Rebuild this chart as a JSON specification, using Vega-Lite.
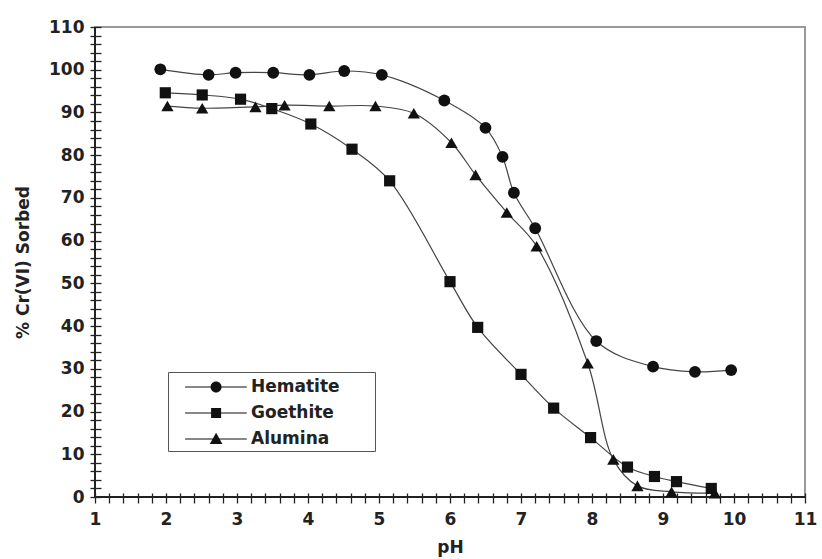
{
  "$schema": "https://vega.github.io/schema/vega-lite/v6.json",
  "width": 710,
  "height": 470,
  "autosize": {"type": "none"},
  "padding": {"left": 95, "top": 27, "right": 17, "bottom": 62},
  "background": "white",
  "config": {
    "view": {"stroke": "#999", "strokeWidth": 2},
    "font": "DejaVu Sans"
  },
  "data": {
    "values": [
      {"m": "Hematite", "pH": 1.92, "s": 100.1},
      {"m": "Hematite", "pH": 2.6, "s": 98.8},
      {"m": "Hematite", "pH": 2.98, "s": 99.3},
      {"m": "Hematite", "pH": 3.51, "s": 99.3},
      {"m": "Hematite", "pH": 4.02, "s": 98.8},
      {"m": "Hematite", "pH": 4.51, "s": 99.7},
      {"m": "Hematite", "pH": 5.04, "s": 98.8},
      {"m": "Hematite", "pH": 5.92, "s": 92.8},
      {"m": "Hematite", "pH": 6.5, "s": 86.4},
      {"m": "Hematite", "pH": 6.74, "s": 79.6},
      {"m": "Hematite", "pH": 6.9, "s": 71.2},
      {"m": "Hematite", "pH": 7.2, "s": 62.9},
      {"m": "Hematite", "pH": 8.06, "s": 36.5},
      {"m": "Hematite", "pH": 8.86, "s": 30.5},
      {"m": "Hematite", "pH": 9.45, "s": 29.3},
      {"m": "Hematite", "pH": 9.96, "s": 29.7},
      {"m": "Goethite", "pH": 1.99, "s": 94.6},
      {"m": "Goethite", "pH": 2.51, "s": 94.1},
      {"m": "Goethite", "pH": 3.05, "s": 93.1},
      {"m": "Goethite", "pH": 3.49, "s": 90.9},
      {"m": "Goethite", "pH": 4.04, "s": 87.3},
      {"m": "Goethite", "pH": 4.62, "s": 81.4},
      {"m": "Goethite", "pH": 5.15, "s": 74.0},
      {"m": "Goethite", "pH": 6.0, "s": 50.4},
      {"m": "Goethite", "pH": 6.39, "s": 39.7},
      {"m": "Goethite", "pH": 7.0, "s": 28.7},
      {"m": "Goethite", "pH": 7.46, "s": 20.8},
      {"m": "Goethite", "pH": 7.98, "s": 13.9},
      {"m": "Goethite", "pH": 8.5, "s": 7.0},
      {"m": "Goethite", "pH": 8.88, "s": 4.8},
      {"m": "Goethite", "pH": 9.19, "s": 3.6},
      {"m": "Goethite", "pH": 9.68, "s": 2.0},
      {"m": "Alumina", "pH": 2.02, "s": 91.5},
      {"m": "Alumina", "pH": 2.51, "s": 91.0},
      {"m": "Alumina", "pH": 3.26, "s": 91.3},
      {"m": "Alumina", "pH": 3.67, "s": 91.7},
      {"m": "Alumina", "pH": 4.3, "s": 91.5},
      {"m": "Alumina", "pH": 4.95, "s": 91.5},
      {"m": "Alumina", "pH": 5.49, "s": 89.8},
      {"m": "Alumina", "pH": 6.02, "s": 82.9},
      {"m": "Alumina", "pH": 6.36, "s": 75.4},
      {"m": "Alumina", "pH": 6.8, "s": 66.6},
      {"m": "Alumina", "pH": 7.22, "s": 58.7},
      {"m": "Alumina", "pH": 7.94, "s": 31.3},
      {"m": "Alumina", "pH": 8.3, "s": 8.8},
      {"m": "Alumina", "pH": 8.64, "s": 2.6},
      {"m": "Alumina", "pH": 9.12, "s": 1.2},
      {"m": "Alumina", "pH": 9.73, "s": 0.9}
    ]
  },
  "layer": [
    {
      "mark": {"type": "line", "interpolate": "catmull-rom", "color": "#444", "strokeWidth": 1.2},
      "encoding": {
        "x": {
          "field": "pH", "type": "quantitative",
          "scale": {"domain": [1, 11], "nice": false, "zero": false},
          "axis": {
            "title": "pH",
            "values": [1,1.2,1.4,1.6,1.8,2,2.2,2.4,2.6,2.8,3,3.2,3.4,3.6,3.8,4,4.2,4.4,4.6,4.8,5,5.2,5.4,5.6,5.8,6,6.2,6.4,6.6,6.8,7,7.2,7.4,7.6,7.8,8,8.2,8.4,8.6,8.8,9,9.2,9.4,9.6,9.8,10,10.2,10.4,10.6,10.8,11],
            "tickCount": 200,
            "labelExpr": "datum.value === round(datum.value) ? format(datum.value, 'd') : ''",
            "domain": false, "grid": false, "offset": -4, "tickSize": 10,
            "tickColor": "#222", "tickWidth": 1.3,
            "labelFont": "DejaVu Sans", "labelFontWeight": "bold", "labelFontSize": 17, "labelColor": "#222",
            "labelPadding": 8, "labelOverlap": false, "labelFlush": false, "labelBound": false,
            "titleFont": "DejaVu Sans", "titleFontWeight": "bold", "titleFontSize": 17, "titleColor": "#222",
            "titlePadding": 12
          }
        },
        "y": {
          "field": "s", "type": "quantitative",
          "scale": {"domain": [0, 110], "nice": false, "zero": false},
          "axis": {
            "title": "% Cr(VI) Sorbed",
            "values": [0,2,4,6,8,10,12,14,16,18,20,22,24,26,28,30,32,34,36,38,40,42,44,46,48,50,52,54,56,58,60,62,64,66,68,70,72,74,76,78,80,82,84,86,88,90,92,94,96,98,100,102,104,106,108,110],
            "tickCount": 200,
            "labelExpr": "datum.value % 10 === 0 ? format(datum.value, 'd') : ''",
            "domain": false, "grid": false, "offset": -6, "tickSize": 11,
            "tickColor": "#222", "tickWidth": 1.3,
            "labelFont": "DejaVu Sans", "labelFontWeight": "bold", "labelFontSize": 17, "labelColor": "#222",
            "labelPadding": 6, "labelOverlap": false, "labelFlush": false, "labelBound": false,
            "titleFont": "DejaVu Sans", "titleFontWeight": "bold", "titleFontSize": 17, "titleColor": "#222",
            "titlePadding": 16
          }
        },
        "detail": {"field": "m"}
      }
    },
    {
      "mark": {"type": "rule", "color": "#222", "strokeWidth": 1.6},
      "encoding": {"x": {"datum": 1, "type": "quantitative"}}
    },
    {
      "mark": {"type": "rule", "color": "#222", "strokeWidth": 1.6},
      "encoding": {"y": {"datum": 0, "type": "quantitative"}}
    },
    {
      "transform": [{"filter": "datum.m === 'Hematite'"}],
      "mark": {"type": "point", "filled": true, "color": "#111", "size": 140, "opacity": 1, "shape": "circle"},
      "encoding": {
        "x": {"field": "pH", "type": "quantitative"},
        "y": {"field": "s", "type": "quantitative"}
      }
    },
    {
      "transform": [{"filter": "datum.m === 'Goethite'"}],
      "mark": {"type": "point", "filled": true, "color": "#111", "size": 125, "opacity": 1, "shape": "square"},
      "encoding": {
        "x": {"field": "pH", "type": "quantitative"},
        "y": {"field": "s", "type": "quantitative"}
      }
    },
    {
      "transform": [{"filter": "datum.m === 'Alumina'"}],
      "mark": {"type": "point", "filled": true, "color": "#111", "size": 150, "opacity": 1, "shape": "triangle-up"},
      "encoding": {
        "x": {"field": "pH", "type": "quantitative"},
        "y": {"field": "s", "type": "quantitative"}
      }
    },
    {
      "mark": {"type": "point", "filled": true, "fill": "#111", "stroke": "#555", "strokeWidth": 1.2, "size": 0, "opacity": 0},
      "encoding": {
        "x": {"field": "pH", "type": "quantitative"},
        "y": {"field": "s", "type": "quantitative"},
        "shape": {
          "field": "m", "type": "nominal",
          "scale": {
            "domain": ["Hematite", "Goethite", "Alumina"],
            "range": [
              "M-1,0L-1,0M0.21,-0.06H6.38V0.06H0.21ZM3.86,0A0.55,0.55,0,1,1,2.76,0A0.55,0.55,0,1,1,3.86,0ZM18.5,0L18.5,0",
              "M-1,0L-1,0M0.21,-0.06H6.38V0.06H0.21ZM2.81,-0.5H3.81V0.5H2.81ZM18.5,0L18.5,0",
              "M-1,0L-1,0M0.21,-0.06H6.38V0.06H0.21ZM3.31,-0.62L3.94,0.5H2.68ZM18.5,0L18.5,0"
            ]
          },
          "legend": {
            "title": null,
            "orient": "none",
            "legendX": 73,
            "legendY": 345,
            "direction": "vertical",
            "symbolSize": 400,
            "symbolOpacity": 1,
            "symbolFillColor": "#111",
            "symbolStrokeColor": "#555",
            "symbolStrokeWidth": 1.2,
            "labelFont": "DejaVu Sans",
            "labelFontWeight": "bold",
            "labelFontSize": 17,
            "labelColor": "#222",
            "labelOffset": 57,
            "rowPadding": 7,
            "padding": 4,
            "strokeColor": "#555",
            "fillColor": "white"
          }
        }
      }
    }
  ]
}
